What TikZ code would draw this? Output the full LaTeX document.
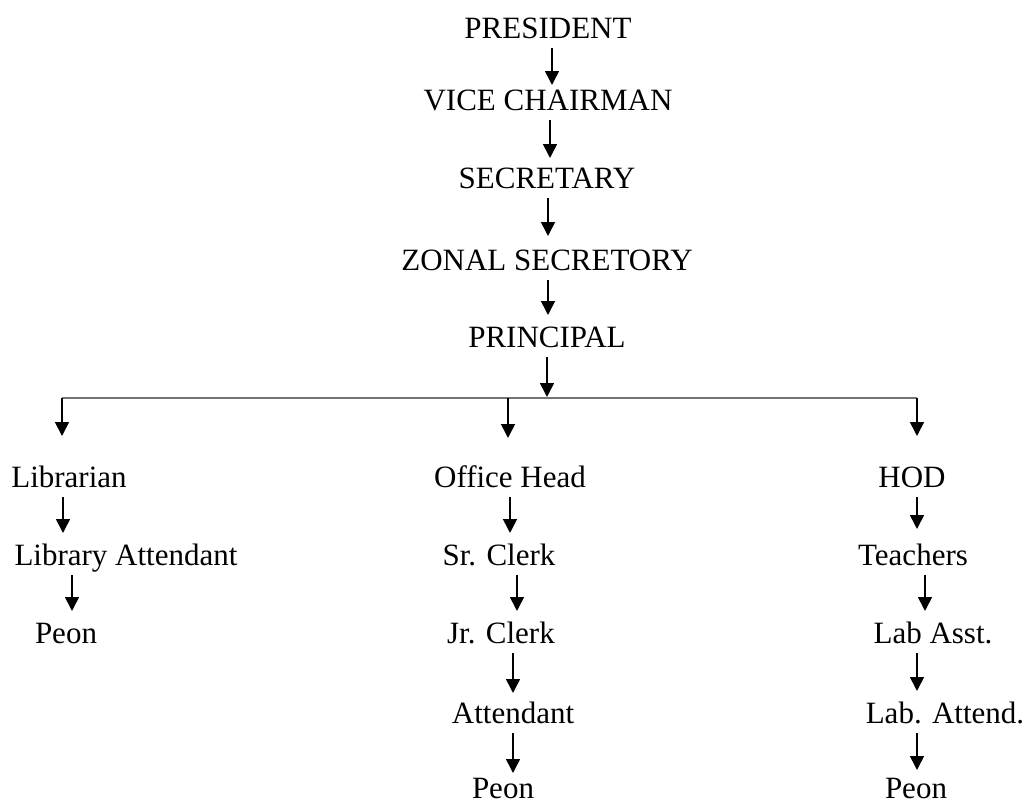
\documentclass[tikz,border=0pt]{standalone}
\usepackage{fontspec}
\setmainfont{Liberation Serif}
\usetikzlibrary{arrows.meta}
\begin{document}
\begin{tikzpicture}[x=1pt,y=-1pt,
  txt/.style={font=\fontsize{31}{31}\selectfont, inner xsep=0pt, inner ysep=3pt,
              text height=21pt, text depth=7pt, anchor=base, outer sep=0pt},
  lowtxt/.style={txt, text depth=0pt},
  arr/.style={line width=1.6pt, -{Triangle[width=14pt,length=14pt]}, shorten >=8pt},
  busline/.style={line width=2.8pt, draw=black!55}]
\useasboundingbox (0,0) rectangle (1029,803);
% top chain
\node[txt] (pres) at (548,38) {PRESIDENT};
\node[txt] (vice) at (548,110) {VICE CHAIRMAN};
\node[txt] (sec) at (547,188) {SECRETARY};
\node[txt] (zon) at (547,270) {ZONAL SECRETORY};
\node[txt] (prin) at (547,347) {PRINCIPAL};
% left column
\node[txt] (lib) at (69,487) {Librarian};
\node[txt] (libatt) at (126,565) {Library Attendant};
\node[txt] (lpeon) at (66,643) {Peon};
% middle column
\node[txt] (off) at (510,487) {Office Head};
\node[txt] (sr) at (499,565) {Sr. Clerk};
\node[txt] (jr) at (501,643) {Jr. Clerk};
\node[txt] (att) at (513,723) {Attendant};
\node[lowtxt] (mpeon) at (503,798) {Peon};
% right column
\node[txt] (hod) at (912,487) {HOD};
\node[txt] (tea) at (913,565) {Teachers};
\node[txt] (lab) at (933,643) {Lab Asst.};
\node[txt] (labatt) at (945,723) {Lab. Attend.};
\node[lowtxt] (rpeon) at (916,798) {Peon};
% bus coordinates
\coordinate (bus) at (547,398);
\coordinate (b1) at (62,398);
\coordinate (b2) at (508,398);
\coordinate (b3) at (917,398);
\coordinate (e1) at (62,436);
\coordinate (e2) at (508,438);
\coordinate (e3) at (917,436);
% top arrows
\draw[arr, shorten >=1pt] ([xshift=4pt]pres.south) -- ([xshift=4pt]pres.south |- vice.north);
\draw[arr, shorten >=6pt] ([xshift=2pt]vice.south) -- ([xshift=2pt]vice.south |- sec.north);
\draw[arr, shorten >=10pt] ([xshift=1pt]sec.south) -- ([xshift=1pt]sec.south |- zon.north);
\draw[arr] ([xshift=1pt]zon.south) -- ([xshift=1pt]zon.south |- prin.north);
\draw[arr, shorten >=1pt] (prin.south) -- (bus);
% bus
\draw[busline] (b1) -- (b3);
\draw[arr, shorten >=0pt] (b1) -- (e1);
\draw[arr, shorten >=0pt] (b2) -- (e2);
\draw[arr, shorten >=0pt] (b3) -- (e3);
% left column arrows
\draw[arr] ([xshift=-6pt]lib.south) -- ([xshift=-6pt]lib.south |- libatt.north);
\draw[arr] ([xshift=-54pt]libatt.south) -- ([xshift=-54pt]libatt.south |- lpeon.north);
% middle column arrows
\draw[arr] (off.south) -- (off.south |- sr.north);
\draw[arr] ([xshift=18pt]sr.south) -- ([xshift=18pt]sr.south |- jr.north);
\draw[arr, shorten >=6pt] ([xshift=12pt]jr.south) -- ([xshift=12pt]jr.south |- att.north);
\draw[arr, shorten >=1pt] (att.south) -- (att.south |- mpeon.north);
% right column arrows
\draw[arr, shorten >=12pt] ([xshift=5pt]hod.south) -- ([xshift=5pt]hod.south |- tea.north);
\draw[arr] ([xshift=12pt]tea.south) -- ([xshift=12pt]tea.south |- lab.north);
\draw[arr] ([xshift=-16pt]lab.south) -- ([xshift=-16pt]lab.south |- labatt.north);
\draw[arr, shorten >=4pt] ([xshift=-28pt]labatt.south) -- ([xshift=-28pt]labatt.south |- rpeon.north);
\end{tikzpicture}
\end{document}
